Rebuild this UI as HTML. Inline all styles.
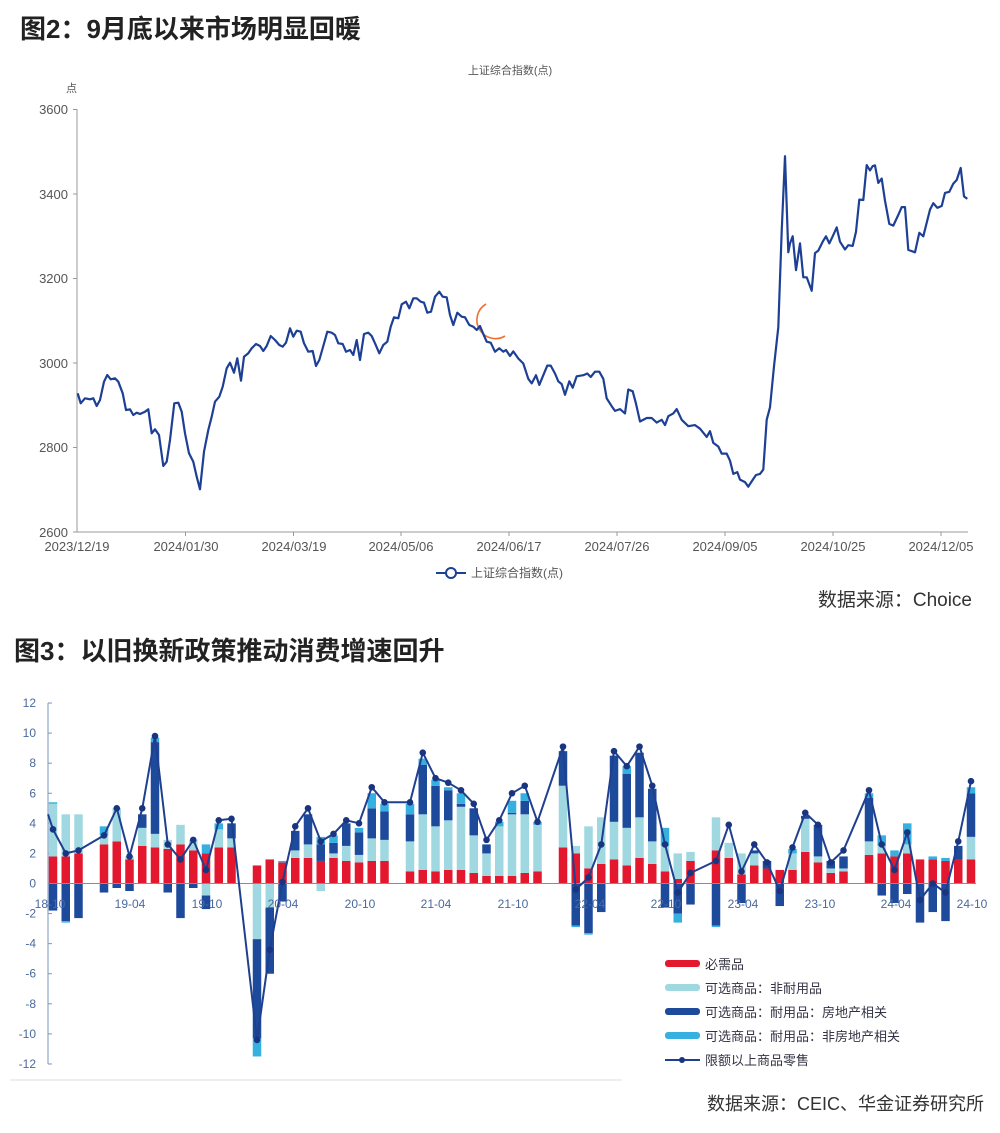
<!DOCTYPE html>
<html><head><meta charset="utf-8">
<style>
body{margin:0;background:#fff;width:1000px;height:1133px;overflow:hidden;font-family:"Liberation Sans","Noto Sans CJK SC",sans-serif;}
svg{position:absolute;left:0;top:0}
</style></head>
<body>
<svg id="s" width="1000" height="1133" viewBox="0 0 1000 1133" xmlns="http://www.w3.org/2000/svg" font-family="Liberation Sans, Noto Sans CJK SC, sans-serif">
<text x="20" y="38" font-size="26" font-weight="bold" fill="#222">图2：9月底以来市场明显回暖</text>
<text x="510" y="74" font-size="11" fill="#555" text-anchor="middle">上证综合指数(点)</text>
<text x="77" y="92" font-size="11" fill="#555" text-anchor="end">点</text>
<g font-size="13" fill="#555" text-anchor="end">
<text x="68" y="114">3600</text><text x="68" y="199">3400</text><text x="68" y="283">3200</text>
<text x="68" y="368">3000</text><text x="68" y="452">2800</text><text x="68" y="537">2600</text>
</g>
<path d="M77 109V532H968" stroke="#999" stroke-width="1" fill="none"/>
<g stroke="#999"><path d="M73 109.5H77M73 194H77M73 278.5H77M73 363H77M73 447.5H77M73 532H77"/>
<path d="M185.5 532v4M293.5 532v4M401 532v4M509 532v4M617 532v4M725 532v4M833 532v4M941 532v4"/></g>
<g font-size="13" fill="#555" text-anchor="middle">
<text x="77" y="551">2023/12/19</text><text x="186" y="551">2024/01/30</text><text x="294" y="551">2024/03/19</text>
<text x="401" y="551">2024/05/06</text><text x="509" y="551">2024/06/17</text><text x="617" y="551">2024/07/26</text>
<text x="725" y="551">2024/09/05</text><text x="833" y="551">2024/10/25</text><text x="941" y="551">2024/12/05</text>
</g>
<path d="M486 304 A16 16 0 1 0 505 336" stroke="#f07030" stroke-width="1.6" fill="none"/>
<polyline id="top" fill="none" stroke="#1d3f94" stroke-width="2.2" stroke-linejoin="round"/>
<line x1="436" y1="573" x2="466" y2="573" stroke="#1d3f94" stroke-width="2"/>
<circle cx="451" cy="573" r="5" fill="#fff" stroke="#1d3f94" stroke-width="2"/>
<text x="471" y="577" font-size="12" fill="#555">上证综合指数(点)</text>
<text x="972" y="606" font-size="19" fill="#333" text-anchor="end">数据来源：Choice</text>

<text x="14" y="660" font-size="26" font-weight="bold" fill="#222">图3：以旧换新政策推动消费增速回升</text>
<g font-size="12" fill="#4a6a9e" text-anchor="end" id="yl"></g>
<path d="M48 703V1064" stroke="#7a95c0" stroke-width="1"/>
<g id="bars"></g>
<line x1="48" y1="883.5" x2="976" y2="883.5" stroke="#6f8fc8" stroke-width="1"/>
<polyline id="ln" fill="none" stroke="#1f3f8f" stroke-width="2" stroke-linejoin="round"/>
<g id="dots" fill="#1a3580"></g>
<g font-size="12" fill="#4a6a9e" text-anchor="middle">
<text x="50" y="908">18-10</text><text x="130" y="908">19-04</text><text x="207" y="908">19-10</text><text x="283" y="908">20-04</text>
<text x="360" y="908">20-10</text><text x="436" y="908">21-04</text><text x="513" y="908">21-10</text><text x="590" y="908">22-04</text>
<text x="666" y="908">22-10</text><text x="743" y="908">23-04</text><text x="820" y="908">23-10</text><text x="896" y="908">24-04</text><text x="972" y="908">24-10</text>
</g>
<g font-size="13" fill="#334">
<rect x="665" y="960" width="35" height="7" rx="3" fill="#e3172d"/><text x="705" y="969">必需品</text>
<rect x="665" y="984" width="35" height="7" rx="3" fill="#9fd8e0"/><text x="705" y="993">可选商品：非耐用品</text>
<rect x="665" y="1008" width="35" height="7" rx="3" fill="#1e4a9c"/><text x="705" y="1017">可选商品：耐用品：房地产相关</text>
<rect x="665" y="1032" width="35" height="7" rx="3" fill="#36b0e0"/><text x="705" y="1041">可选商品：耐用品：非房地产相关</text>
<line x1="665" y1="1060" x2="700" y2="1060" stroke="#1f3f8f" stroke-width="2"/><circle cx="682" cy="1060" r="3" fill="#1a3580"/><text x="705" y="1065">限额以上商品零售</text>
</g>
<line x1="10" y1="1080" x2="622" y2="1080" stroke="#eee" stroke-width="2"/>
<text x="984" y="1110" font-size="18" fill="#333" text-anchor="end">数据来源：CEIC、华金证券研究所</text>
</svg>
<script>
var z3=[143,1000,152,1030,165,1015,180,1018,190,1015,200,1038,210,1020,222,965,232,945,242,958,255,955,265,965,278,1000,288,1050,300,1048,310,1065,320,1058,330,1062,345,1055,355,1048,365,1120,375,1108,387,1125,400,1218,410,1205,420,1140,433,1030,445,1028,455,1055,465,1120,477,1180,490,1205,500,1250,510,1288,522,1175,535,1110,545,1070,555,1025,568,1010,578,980,590,925,600,908,612,938,622,895,633,962,642,890,655,880,665,865,678,852,690,858,700,873,710,858,722,828,735,840,748,855,758,860,768,848,780,805,790,830,800,812,812,815,822,850,835,875,848,873,858,918,868,900,880,858,892,815,905,818,915,825,925,850,938,852,948,875,960,870,970,885,980,840,990,900,1002,822,1015,818,1025,828,1035,850,1048,880,1060,855,1072,845,1082,800,1092,772,1105,775,1115,733,1128,725,1138,745,1150,715,1160,715,1172,725,1182,728,1192,758,1203,755,1215,710,1228,695,1238,710,1250,712,1260,765,1270,795,1282,758,1295,770,1305,772,1318,795,1330,800,1340,810,1350,798,1360,822,1370,845,1382,848,1395,875,1408,865,1420,875,1428,870,1440,888];
var z4=[40,818,55,838,70,852,85,895,95,908,108,885,118,912,130,885,142,858,152,858,165,880,175,902,185,910,195,940,208,902,218,920,230,888,250,885,262,880,272,890,285,875,298,875,310,895,320,950,335,972,345,985,360,980,375,992,385,925,398,930,408,965,420,1015,440,1005,455,1005,470,1018,485,1010,495,1025,505,1000,520,992,530,980,545,1010,565,1028,585,1025,600,1035,620,1058,630,1042,640,1075,655,1085,665,1105,680,1105,690,1125,700,1162,712,1157,720,1178,735,1185,745,1198,755,1183,768,1165,780,1162,790,1150,800,1010,810,975,822,860,835,750,845,480,855,270,865,540,870,515,878,495,888,590,900,515,910,610,920,610,935,648,945,542,955,535,968,510,978,495,988,515,998,495,1010,470,1020,510,1035,532,1045,520,1058,522,1068,482,1078,392,1090,393,1100,295,1110,310,1118,298,1125,296,1135,345,1145,333,1155,395,1168,460,1180,465,1195,435,1205,413,1215,413,1225,533,1245,540,1258,485,1270,495,1290,420,1300,402,1312,415,1325,410,1335,373,1348,370,1360,347,1370,337,1382,303,1392,383,1402,390];
var p=[];
for(var i=0;i<z3.length;i+=2)p.push((30+z3[i]/3).toFixed(1)+","+(60+z3[i+1]/3).toFixed(1));
for(var i=0;i<z4.length;i+=2)p.push((500+z4[i]/3).toFixed(1)+","+(60+z4[i+1]*0.3562).toFixed(1));
document.getElementById("top").setAttribute("points",p.join(" "));
var NS="http://www.w3.org/2000/svg";
function el(t,a,par){var e=document.createElementNS(NS,t);for(var k in a)e.setAttribute(k,a[k]);document.getElementById(par).appendChild(e);return e;}
function Y(v){return 883.5-v*15.04;}
for(var v=12;v>=-12;v-=2){var t=el("text",{x:36,y:Y(v)+4},"yl");t.textContent=v;el("line",{x1:48,y1:Y(v),x2:52,y2:Y(v),stroke:"#7a95c0"},"yl");}
var D=[
[0,[1.8,5.3,null,5.4],[null,-1.8,null],3.6],
[1,[1.8,4.6,null,null],[null,-2.5,-2.6],2.0],
[2,[2.0,4.6,null,null],[null,-2.3,null],2.2],
[4,[2.6,3.2,null,3.8],[null,-0.6,null],3.2],
[5,[2.8,5.0,null,null],[null,-0.3,null],5.0],
[6,[1.6,1.8,null,null],[null,-0.5,null],1.8],
[7,[2.5,3.7,4.6,null],[null,null,null],5.0],
[8,[2.4,3.3,9.4,9.7],[null,null,null],9.8],
[9,[2.3,2.9,null,null],[null,-0.6,null],2.6],
[10,[2.6,3.9,null,null],[null,-2.3,null],1.6],
[11,[2.2,2.9,null,null],[null,-0.3,null],2.9],
[12,[2.0,null,null,2.6],[-0.8,-1.7,null],0.9],
[13,[2.4,3.6,null,4.0],[null,null,null],4.2],
[14,[2.4,3.0,4.0,null],[null,null,null],4.3],
[16,[1.2,null,null,null],[-3.7,-10.3,-11.5],-10.4],
[17,[1.6,null,null,null],[-1.6,-6.0,null],-4.4],
[18,[1.4,null,null,1.5],[null,-1.2,null],0.1],
[19,[1.7,2.2,3.5,null],[null,null,null],3.8],
[20,[1.7,2.6,4.6,null],[null,null,null],5.0],
[21,[1.5,null,2.6,3.1],[-0.5,null,null],2.8],
[22,[1.7,2.0,2.7,3.2],[null,null,null],3.3],
[23,[1.5,2.5,4.0,null],[null,null,null],4.2],
[24,[1.4,1.9,3.4,3.7],[null,null,null],4.0],
[25,[1.5,3.0,5.0,6.0],[null,null,null],6.4],
[26,[1.5,2.9,4.8,5.3],[null,null,null],5.4],
[28,[0.8,2.8,4.6,5.3],[null,null,null],5.4],
[29,[0.9,4.6,7.9,8.3],[null,null,null],8.7],
[30,[0.8,3.8,6.5,6.9],[null,null,null],7.0],
[31,[0.9,4.2,6.2,6.4],[null,null,null],6.7],
[32,[0.9,5.1,5.3,6.0],[null,null,null],6.2],
[33,[0.7,3.2,5.0,null],[null,null,null],5.3],
[34,[0.5,2.0,2.6,null],[null,null,null],2.9],
[35,[0.5,3.8,null,4.1],[null,null,null],4.2],
[36,[0.5,4.6,4.7,5.5],[null,null,null],6.0],
[37,[0.7,4.6,5.5,6.0],[null,null,null],6.5],
[38,[0.8,3.9,null,4.1],[null,null,null],4.1],
[40,[2.4,6.5,8.8,null],[null,null,null],9.1],
[41,[2.0,2.5,null,null],[null,-2.8,-2.9],-0.4],
[42,[1.0,3.8,null,null],[null,-3.3,-3.4],0.4],
[43,[1.3,4.4,null,null],[null,-1.9,null],2.6],
[44,[1.6,4.1,8.5,null],[null,null,null],8.8],
[45,[1.2,3.7,7.3,7.8],[null,null,null],7.8],
[46,[1.7,4.4,8.7,null],[null,null,null],9.1],
[47,[1.3,2.8,6.3,null],[null,null,null],6.5],
[48,[0.8,2.5,null,3.7],[null,-1.6,null],2.6],
[49,[0.3,2.0,null,null],[null,-2.0,-2.6],-0.6],
[50,[1.5,2.1,null,null],[null,-1.4,null],0.7],
[52,[2.2,4.4,null,null],[null,-2.8,-2.9],1.5],
[53,[1.7,2.7,null,null],[null,null,null],3.9],
[54,[0.6,2.0,null,null],[null,-1.3,null],0.8],
[55,[1.2,2.0,2.2,null],[null,null,null],2.6],
[56,[1.0,null,1.5,null],[null,null,null],1.4],
[57,[0.9,null,null,null],[null,-1.5,null],-0.5],
[58,[0.9,2.0,null,2.3],[null,null,null],2.4],
[59,[2.1,4.3,4.5,null],[null,null,null],4.7],
[60,[1.4,1.8,3.9,null],[null,null,null],3.9],
[61,[0.7,1.0,1.5,null],[null,null,null],1.4],
[62,[0.8,1.0,1.8,null],[null,null,null],2.2],
[64,[1.9,2.8,5.7,6.0],[null,null,null],6.2],
[65,[2.0,2.5,null,3.2],[null,-0.8,null],2.6],
[66,[1.8,null,null,2.2],[null,-1.3,null],0.9],
[67,[2.0,2.6,null,4.0],[null,-0.7,null],3.4],
[68,[1.6,null,null,null],[null,-2.6,null],-1.1],
[69,[1.6,null,null,1.8],[null,-1.9,null],0.0],
[70,[1.5,null,null,1.7],[null,-2.5,null],-0.6],
[71,[1.6,null,2.5,null],[null,null,null],2.8],
[72,[1.6,3.1,6.0,6.4],[null,null,null],6.8]];
var pc=["#e3172d","#9fd8e0","#1e4a9c","#36b0e0"],nc=["#9fd8e0","#1e4a9c","#36b0e0"];
var lp=["48,"+Y(4.6).toFixed(1)];
D.forEach(function(d){
 var x=53+d[0]*12.75,w=8.5,prev=0;
 d[1].forEach(function(v,j){if(v==null)return;el("rect",{x:x-w/2,y:Y(v),width:w,height:Math.max(0,Y(prev)-Y(v)),fill:pc[j]},"bars");prev=v;});
 prev=0;
 d[2].forEach(function(v,j){if(v==null)return;el("rect",{x:x-w/2,y:Y(prev),width:w,height:Math.max(0,Y(v)-Y(prev)),fill:nc[j]},"bars");prev=v;});
 lp.push(x.toFixed(1)+","+Y(d[3]).toFixed(1));
 el("circle",{cx:x,cy:Y(d[3]),r:3.3},"dots");
});
document.getElementById("ln").setAttribute("points",lp.join(" "));
</script>
</body></html>
